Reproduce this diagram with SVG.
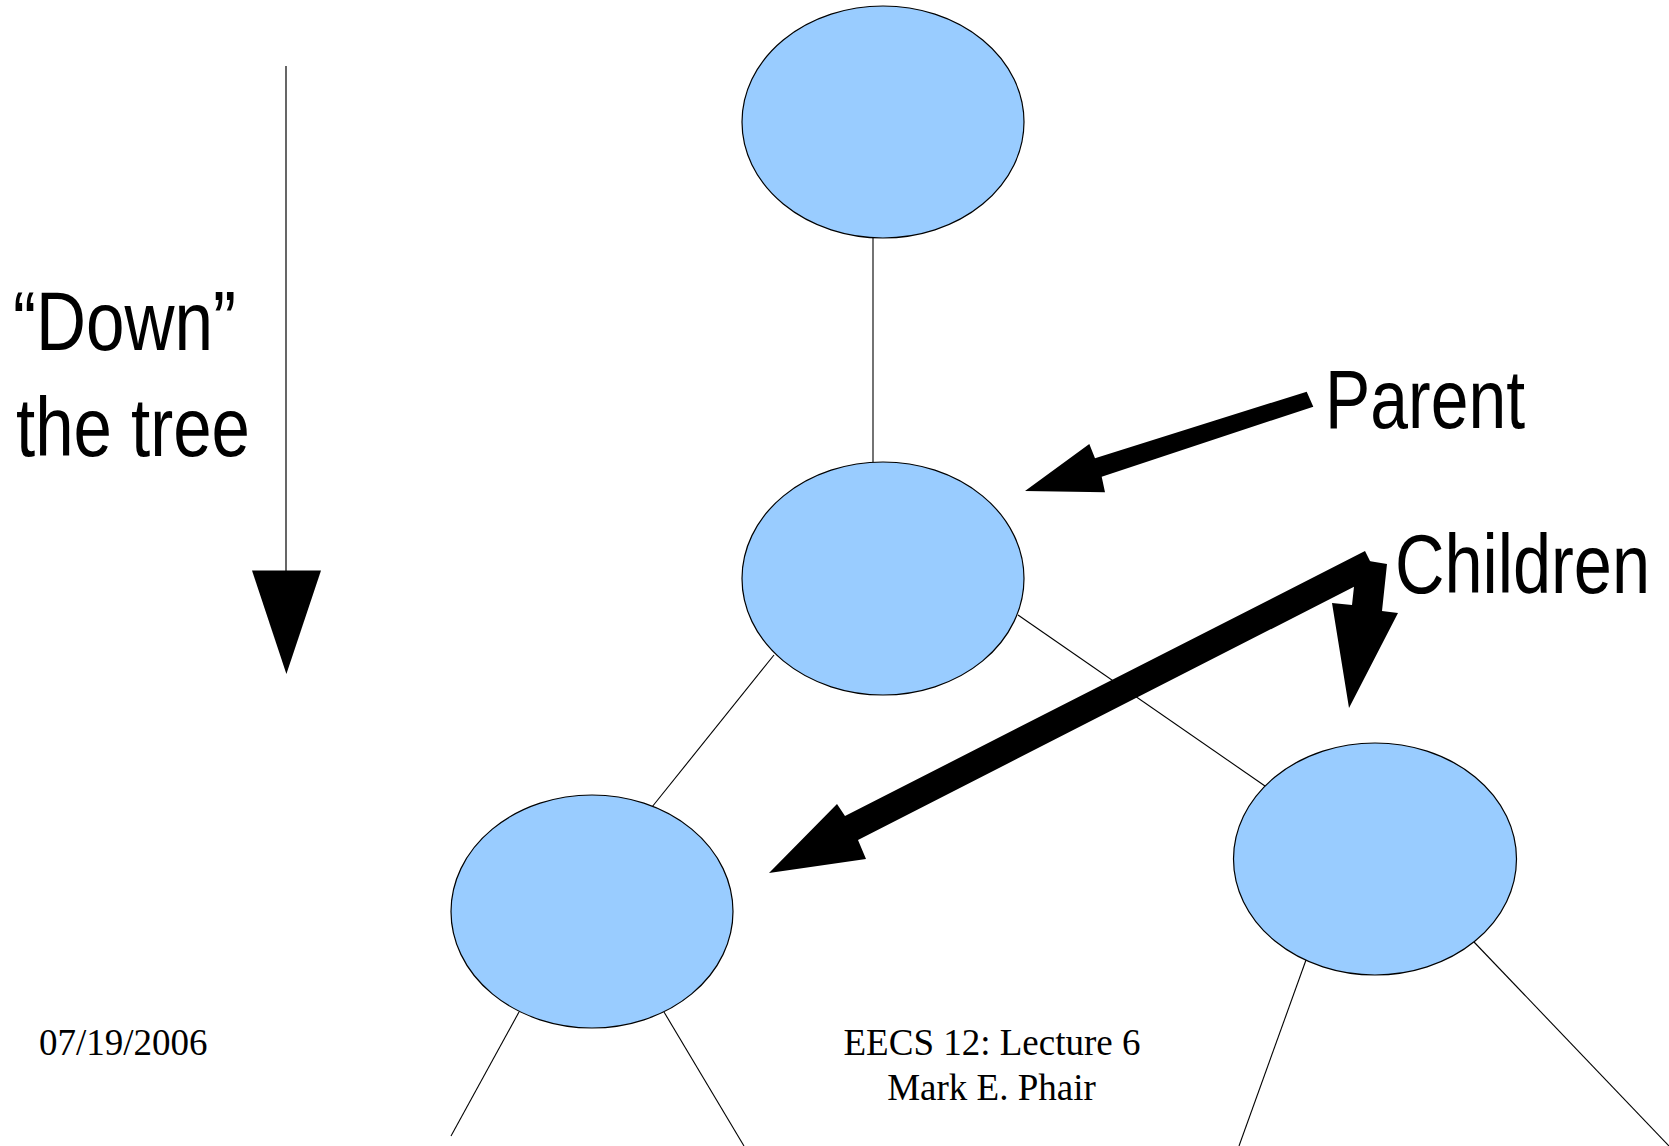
<svg xmlns="http://www.w3.org/2000/svg" width="1669" height="1146" viewBox="0 0 1669 1146">
<style>
.node{fill:#99ccff;stroke:#000;stroke-width:1.2}
.edge{stroke:#000;stroke-width:1.1;fill:none}
.big{font-family:"Liberation Sans",Arial,sans-serif;font-size:84px;fill:#000}
.foot{font-family:"Liberation Serif","Times New Roman",serif;font-size:37px;fill:#000}
.arrow{fill:#000;stroke:none}
</style>
<rect width="1669" height="1146" fill="#fff"/>
<g id="connectors">
<line class="edge" x1="873" y1="238" x2="873" y2="462"/>
<line class="edge" x1="774" y1="655" x2="652" y2="807"/>
<line class="edge" x1="1018" y1="615" x2="1265" y2="786"/>
<line class="edge" x1="519" y1="1012" x2="451" y2="1136"/>
<line class="edge" x1="664" y1="1012" x2="744" y2="1146"/>
<line class="edge" x1="1306" y1="960" x2="1239" y2="1146"/>
<line class="edge" x1="1474" y1="942" x2="1669" y2="1146"/>
</g>
<g id="node-root"><ellipse class="node" cx="883" cy="122" rx="141" ry="116"/></g>
<g id="node-middle"><ellipse class="node" cx="883" cy="578.5" rx="141" ry="116.5"/></g>
<g id="node-left"><ellipse class="node" cx="592" cy="911.5" rx="141" ry="116.5"/></g>
<g id="node-right"><ellipse class="node" cx="1375" cy="859" rx="141.5" ry="116"/></g>
<g id="down-arrow">
<line x1="286" y1="66" x2="286" y2="572" stroke="#000" stroke-width="1.2"/>
<polygon class="arrow" points="252,570.5 321,570.5 286.4,674"/>
</g>
<g id="pointer-arrows">
<polygon class="arrow" points="1306.7,391.7 1313.3,406.7 1101.7,476.7 1105,492.3 1025,491 1089.3,444 1095,458.3"/>
<polygon class="arrow" points="1365,551 1377,575 858,840 866,859 769,873 837,804 845,816"/>
<polygon class="arrow" points="1357,559 1387,564 1382,611 1398,613 1349,708 1332,603 1352,605"/>
</g>
<g id="labels">
<text class="big" x="13" y="350" textLength="223" lengthAdjust="spacingAndGlyphs">“Down”</text>
<text class="big" x="16" y="456" textLength="234" lengthAdjust="spacingAndGlyphs">the tree</text>
<text class="big" x="1325" y="428" textLength="200" lengthAdjust="spacingAndGlyphs">Parent</text>
<text class="big" x="1395" y="593" textLength="255" lengthAdjust="spacingAndGlyphs">Children</text>
</g>
<g id="footer">
<text class="foot" x="39" y="1055">07/19/2006</text>
<text class="foot" x="992" y="1055" text-anchor="middle">EECS 12: Lecture 6</text>
<text class="foot" x="991.5" y="1100" text-anchor="middle">Mark E. Phair</text>
</g>
</svg>
